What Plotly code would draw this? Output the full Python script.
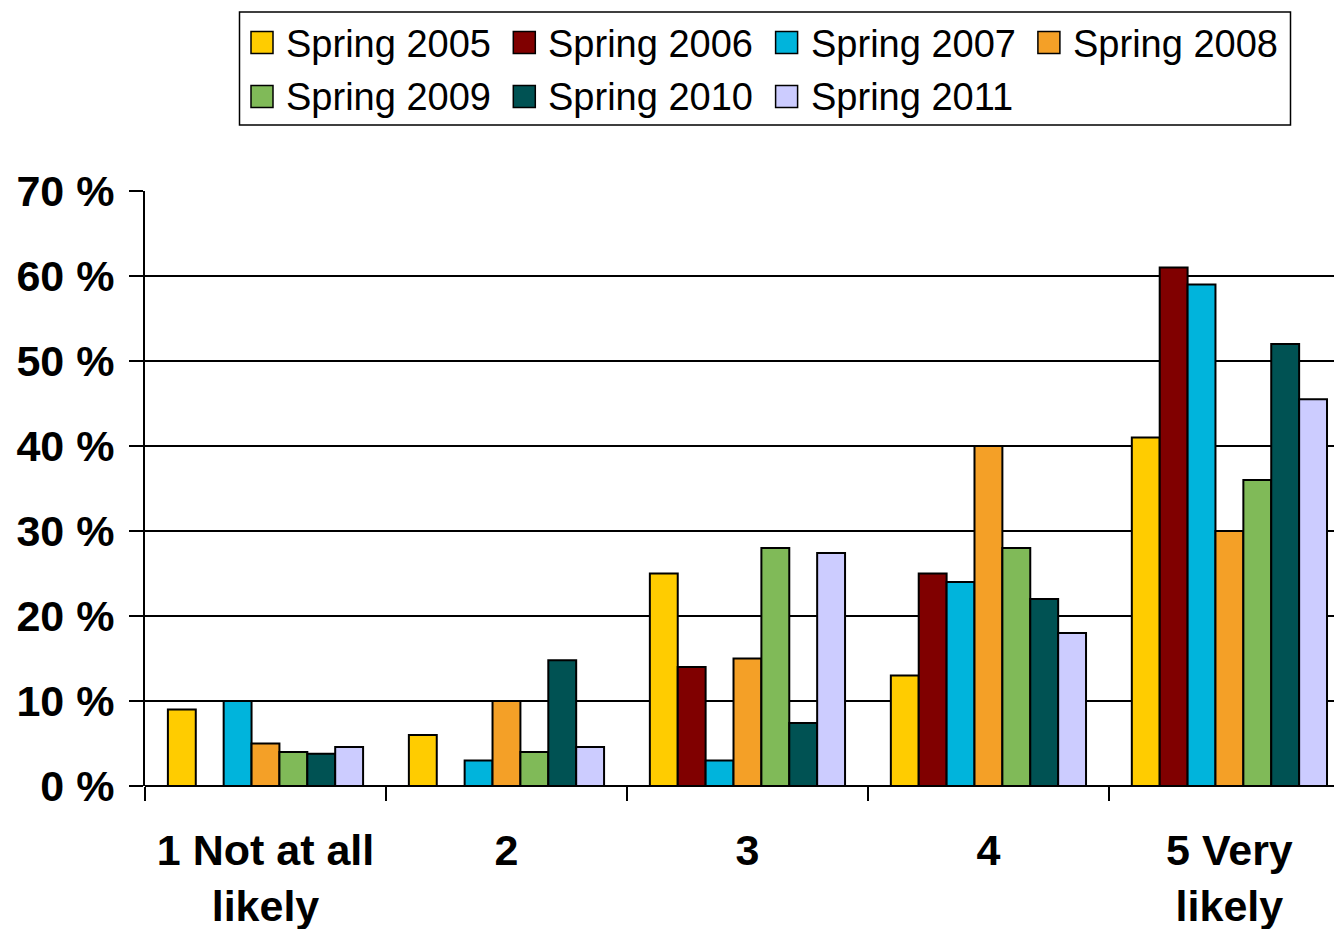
import plotly.graph_objects as go

# Survey answer categories and yearly response shares (%)
categories = ["1 Not at all<br>likely", "2", "3", "4", "5 Very<br>likely"]
series_names = ["Spring 2005", "Spring 2006", "Spring 2007", "Spring 2008",
                "Spring 2009", "Spring 2010", "Spring 2011"]
spring_2005 = [9, 6, 25, 13, 41]
spring_2006 = [None, None, 14, 25, 61]
spring_2007 = [10, 3, 3, 24, 59]
spring_2008 = [5, 10, 15, 40, 30]
spring_2009 = [4, 4, 28, 28, 36]
spring_2010 = [3.8, 14.8, 7.4, 22, 52]
spring_2011 = [4.6, 4.6, 27.4, 18, 45.5]
y_ticks = [0, 10, 20, 30, 40, 50, 60, 70]
y_tick_labels = ["0 %", "10 %", "20 %", "30 %", "40 %", "50 %", "60 %", "70 %"]

series_values = [spring_2005, spring_2006, spring_2007, spring_2008,
                 spring_2009, spring_2010, spring_2011]
colors = ["#FFCC00", "#800000", "#00B4DC", "#F4A027",
          "#80BA58", "#005253", "#CCCCFF"]

W, H = 1334, 929
M_L, M_R, M_T, M_B = 145, 0, 191, 143
font_family = "Arial, Liberation Sans, sans-serif"

fig = go.Figure()
for name, vals, col in zip(series_names, series_values, colors):
    fig.add_trace(go.Bar(
        name=name, x=categories, y=vals, showlegend=False,
        marker=dict(color=col, line=dict(color="black", width=2)),
    ))


# Pixel -> paper coordinate helpers for the boxed legend above the plot
def px_x(px):
    return (px - M_L) / (W - M_L - M_R)


def px_y(py):
    return (H - M_B - py) / (H - M_T - M_B)


shapes = []
annotations = []

# Legend frame
shapes.append(dict(type="rect", xref="paper", yref="paper",
                   x0=px_x(239.5), x1=px_x(1290.5), y0=px_y(125), y1=px_y(12),
                   line=dict(color="black", width=1.5), fillcolor="white",
                   layer="above"))

# Legend entries: 4 columns, 2 rows, large swatches
col_left, col_step = 251, 262.3
row_mid = [42.5, 96.5]
sw = 22
for i, (name, col) in enumerate(zip(series_names, colors)):
    r, c = divmod(i, 4)
    x0 = col_left + c * col_step
    yc = row_mid[r]
    shapes.append(dict(type="rect", xref="paper", yref="paper",
                       x0=px_x(x0), x1=px_x(x0 + sw),
                       y0=px_y(yc + sw / 2), y1=px_y(yc - sw / 2),
                       line=dict(color="black", width=1.5), fillcolor=col,
                       layer="above"))
    annotations.append(dict(xref="paper", yref="paper",
                            x=px_x(x0 + 33), y=px_y(yc + 1),
                            xanchor="left", yanchor="middle",
                            text=name, showarrow=False,
                            font=dict(size=38, family=font_family, color="black")))

fig.update_layout(
    width=W, height=H,
    margin=dict(l=M_L, r=M_R, t=M_T, b=M_B, autoexpand=False),
    paper_bgcolor="white", plot_bgcolor="white",
    barmode="group", bargap=0.19, bargroupgap=0,
    font=dict(family=font_family, color="black"),
    showlegend=False,
    shapes=shapes,
    annotations=annotations,
    xaxis=dict(
        type="category",
        range=[-0.5, 4.434],
        showline=False, showgrid=False, zeroline=False,
        ticks="outside", tickson="boundaries", ticklen=14,
        tickwidth=2, tickcolor="black",
        tickfont=dict(size=43, family=font_family, color="black", weight="bold"),
        ticklabelstandoff=35,
    ),
    yaxis=dict(
        range=[0, 70], tickmode="array", tickvals=y_ticks, ticktext=y_tick_labels,
        showline=True, linecolor="black", linewidth=2,
        showgrid=True, gridcolor="black", gridwidth=1.5,
        zeroline=True, zerolinecolor="black", zerolinewidth=2,
        ticks="outside", ticklen=14, tickwidth=2, tickcolor="black",
        tickfont=dict(size=43, family=font_family, color="black", weight="bold"),
        ticklabelstandoff=6,
    ),
)

fig.write_html("out.html")
